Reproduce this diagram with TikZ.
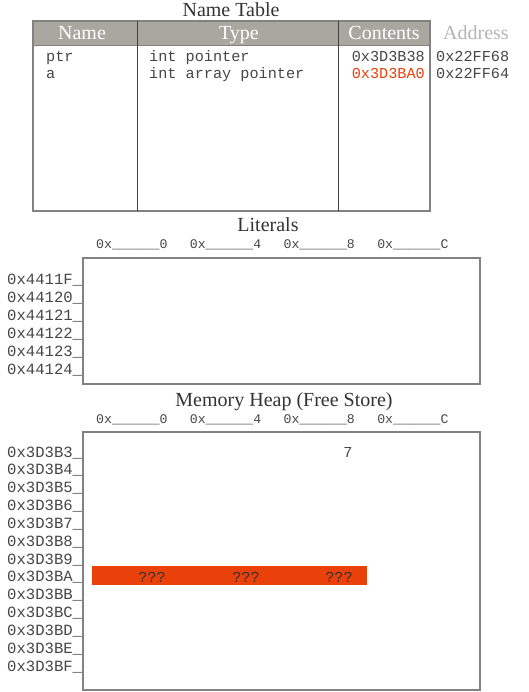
\documentclass[tikz,border=0pt]{standalone}
\usepackage{fontspec}
\setmainfont{Liberation Serif}
\setmonofont{Liberation Mono}
\definecolor{hdr}{RGB}{168,167,160}
\definecolor{hot}{RGB}{234,64,10}
\definecolor{ink}{RGB}{51,51,51}
\definecolor{monoink}{RGB}{70,70,70}
\definecolor{frame}{RGB}{130,130,130}
\definecolor{addr}{RGB}{180,180,180}
\begin{document}
\begin{tikzpicture}[x=1pt,y=-1pt,
  titlest/.style={inner sep=0pt,anchor=base,text=ink,font=\fontsize{20}{24}\selectfont},
  hdrst/.style={inner sep=0pt,anchor=base,text=white,font=\fontsize{20}{24}\selectfont},
  cellst/.style={inner sep=0pt,anchor=base west,text=monoink,font=\ttfamily\fontsize{15.2}{18}\selectfont},
  rowlab/.style={inner sep=0pt,anchor=base west,text=monoink,font=\ttfamily\fontsize{15.6}{18}\selectfont},
  collab/.style={inner sep=0pt,anchor=base west,text=monoink,font=\ttfamily\fontsize{13.2}{16}\selectfont},
  framest/.style={draw=frame,line width=1.3pt},
  divst/.style={draw=black!75,line width=0.8pt}]
\useasboundingbox (0,0) rectangle (529,692);

% ---------- Name Table ----------
\node[titlest] (nttitle) at (231,17) {Name Table};
\fill[hdr] (33,21) rectangle (430,45);
\draw[framest] (33,21) rectangle (430,211);
\draw[draw=frame,line width=0.8pt] (33,45) -- (430,45);
\coordinate (d1t) at (137,21); \coordinate (d1b) at (137,211);
\coordinate (d2t) at (338,21); \coordinate (d2b) at (338,211);
\draw[divst] (d1t) -- (d1b);
\draw[divst] (d2t) -- (d2b);
\node[hdrst] (hname) at (82,40) {Name};
\node[hdrst] (htype) at (239,40) {Type};
\node[hdrst] (hcont) at (384,40) {Contents};
\node[titlest,text=addr] (haddr) at (476,40) {Address};

\node[cellst] (n1) at (46,62) {ptr};
\node[cellst] (n2) at (46,79) {a};
\node[cellst] (t1) at (149,62) {int pointer};
\node[cellst] (t2) at (149,79) {int array pointer};
\node[cellst,anchor=base east] (c1) at (425,62) {0x3D3B38};
\node[cellst,anchor=base east,text=hot] (c2) at (425,79) {0x3D3BA0};
\node[cellst] (a1) at (436,62) {0x22FF68};
\node[cellst] (a2) at (436,79) {0x22FF64};

% ---------- Literals ----------
\node[titlest] (littitle) at (268,232) {Literals};
\foreach \i/\h in {0/0,1/4,2/8,3/C}{
  \node[collab] (lc\i) at ({96+93.7*\i},248) {0x\_\_\_\_\_\_\h};
}
\draw[framest] (83,258) rectangle (480,384);
\foreach \i/\r in {0/4411F,1/44120,2/44121,3/44122,4/44123,5/44124}{
  \node[rowlab] (lr\i) at (7,{284+18*\i}) {0x\r\_};
}

% ---------- Memory Heap ----------
\node[titlest] (heaptitle) at (284,406) {Memory Heap (Free Store)};
\foreach \i/\h in {0/0,1/4,2/8,3/C}{
  \node[collab] (hc\i) at ({96+93.7*\i},423) {0x\_\_\_\_\_\_\h};
}
\draw[framest] (83,432) rectangle (480,690);
\foreach \i/\r in {0/3D3B3,1/3D3B4,2/3D3B5,3/3D3B6,4/3D3B7,5/3D3B8,6/3D3B9,7/3D3BA,8/3D3BB,9/3D3BC,10/3D3BD,11/3D3BE,12/3D3BF}{
  \node[rowlab] (hr\i) at (7,{457+17.85*\i}) {0x\r\_};
}
\node[cellst,anchor=base] (seven) at (348,457) {7};
\fill[hot] (92,566) rectangle (367,585);
\node[cellst,anchor=base,text=black!80] (q1) at (152,582) {???};
\node[cellst,anchor=base,text=black!80] (q2) at (246,582) {???};
\node[cellst,anchor=base,text=black!80] (q3) at (339,582) {???};
\end{tikzpicture}
\end{document}
